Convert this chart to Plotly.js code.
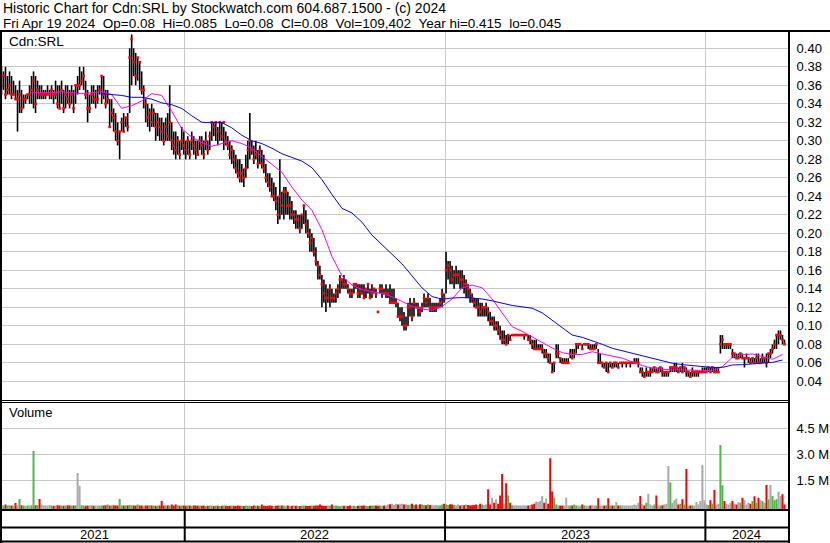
<!DOCTYPE html>
<html><head><meta charset="utf-8">
<script src="https://cdn.plot.ly/plotly-3.0.1.min.js"></script>
<style>html,body{margin:0;padding:0;background:#fff}#chart{width:830px;height:543px}</style>
</head><body><div id="chart"></div>
<script>
// ---- data (each bar = 2 trading days, oldest first, last bar = 2024-04-19) ----
const lastDate = '2024-04-19';
const stepDays = 2;
const low = [
.35,.355,.345,.35,.35,.345,.35,.345,.31,.33,.33,.335,.34,.345,.34,.34,.335,.33,.345,.345,
.345,.345,.345,.35,.345,.345,.34,.345,.335,.335,.34,.33,.335,.34,.335,.34,.33,.34,.35,.355,
.36,.355,.345,.32,.33,.34,.34,.335,.34,.35,.34,.345,.335,.34,.315,.32,.31,.30,.295,.28,
.31,.31,.315,.31,.33,.36,.37,.36,.365,.355,.35,.335,.32,.315,.31,.315,.315,.30,.305,.30,
.30,.295,.30,.30,.30,.29,.285,.28,.285,.28,.29,.285,.28,.285,.28,.29,.285,.28,.285,.29,
.285,.28,.29,.285,.29,.30,.305,.30,.295,.30,.30,.29,.295,.29,.28,.275,.27,.265,.26,.255,
.255,.25,.26,.27,.28,.285,.275,.28,.27,.275,.27,.265,.255,.25,.245,.24,.235,.225,.21,.215,
.22,.215,.22,.22,.215,.215,.21,.205,.205,.20,.205,.21,.20,.195,.18,.18,.175,.165,.15,.15,
.12,.125,.115,.125,.12,.125,.125,.125,.13,.135,.14,.14,.14,.135,.13,.13,.135,.14,.13,.13,
.135,.13,.13,.135,.13,.13,.135,.13,.115,.135,.13,.135,.13,.13,.125,.125,.125,.12,.11,.105,
.10,.095,.095,.10,.11,.105,.11,.12,.11,.11,.115,.12,.12,.12,.115,.115,.115,.115,.12,.12,
.12,.125,.135,.15,.145,.145,.14,.145,.145,.14,.14,.135,.13,.13,.125,.125,.12,.12,.11,.11,
.11,.11,.11,.105,.10,.10,.095,.095,.09,.085,.08,.08,.08,.08,.085,.09,.09,.09,.09,.09,
.09,.085,.09,.085,.08,.075,.075,.075,.075,.075,.07,.065,.065,.06,.06,.05,.05,.065,.065,.06,
.06,.06,.06,.06,.065,.065,.065,.07,.075,.08,.075,.08,.08,.075,.075,.075,.075,.075,.06,.06,
.055,.055,.05,.05,.055,.055,.055,.055,.055,.06,.055,.06,.055,.06,.055,.06,.06,.06,.055,.05,
.045,.045,.045,.045,.045,.05,.05,.05,.05,.05,.045,.045,.045,.045,.05,.05,.05,.05,.05,.05,
.05,.05,.045,.045,.045,.045,.045,.045,.045,.05,.05,.05,.05,.05,.05,.05,.05,.05,.05,.07,
.075,.075,.075,.075,.075,.065,.065,.065,.065,.065,.065,.055,.065,.06,.06,.06,.06,.06,.06,.06,
.06,.06,.055,.06,.065,.07,.075,.075,.08,.085,.08,.08];
const high = [
.38,.375,.38,.37,.375,.37,.365,.36,.355,.365,.355,.35,.35,.35,.36,.37,.375,.37,.365,.36,
.36,.355,.355,.36,.355,.36,.355,.365,.36,.36,.365,.355,.36,.36,.355,.36,.355,.36,.37,.38,
.375,.38,.365,.355,.35,.36,.36,.355,.36,.36,.37,.37,.355,.355,.345,.345,.335,.33,.32,.31,
.325,.33,.325,.33,.40,.415,.40,.395,.39,.385,.375,.36,.345,.34,.335,.34,.335,.33,.33,.325,
.325,.32,.325,.33,.36,.32,.31,.31,.305,.30,.315,.31,.30,.305,.30,.31,.305,.30,.30,.305,
.305,.30,.31,.30,.31,.32,.32,.32,.315,.32,.32,.315,.31,.305,.30,.295,.29,.285,.28,.28,
.275,.27,.285,.30,.33,.30,.295,.30,.29,.295,.29,.285,.275,.265,.265,.26,.255,.25,.24,.28,
.245,.25,.25,.245,.24,.235,.225,.225,.22,.22,.22,.23,.225,.215,.205,.20,.195,.185,.17,.165,
.155,.15,.145,.14,.145,.14,.135,.14,.145,.155,.15,.155,.15,.145,.14,.14,.145,.145,.145,.145,
.145,.145,.14,.145,.14,.145,.14,.14,.115,.145,.145,.14,.145,.14,.145,.14,.14,.13,.125,.12,
.12,.115,.11,.125,.13,.125,.13,.125,.125,.12,.125,.135,.13,.135,.13,.125,.125,.125,.125,.13,
.14,.135,.18,.17,.17,.165,.16,.165,.16,.16,.16,.155,.15,.145,.14,.135,.13,.13,.13,.125,
.125,.12,.125,.12,.115,.11,.11,.105,.105,.10,.095,.095,.09,.09,.09,.09,.09,.09,.09,.09,
.09,.09,.09,.09,.09,.085,.085,.085,.08,.08,.08,.075,.075,.07,.07,.06,.06,.08,.08,.065,
.065,.065,.065,.065,.075,.075,.075,.08,.08,.08,.08,.08,.08,.08,.08,.08,.08,.08,.075,.07,
.06,.06,.06,.06,.06,.06,.06,.06,.06,.06,.06,.06,.06,.06,.06,.06,.065,.065,.065,.055,
.055,.05,.055,.05,.055,.055,.055,.055,.055,.055,.055,.05,.05,.05,.055,.055,.06,.06,.055,.055,
.06,.055,.055,.05,.05,.055,.05,.05,.05,.05,.055,.055,.055,.055,.055,.055,.055,.055,.055,.09,
.09,.08,.08,.08,.08,.075,.07,.07,.07,.07,.07,.065,.07,.065,.065,.065,.065,.07,.07,.065,
.07,.065,.07,.07,.075,.08,.085,.09,.095,.095,.09,.085];
const close = [
.36,.37,.35,.355,.36,.35,.35,.345,.345,.35,.335,.345,.345,.35,.35,.355,.365,.34,.355,.35,
.35,.35,.35,.35,.35,.355,.35,.35,.34,.335,.355,.335,.35,.345,.34,.35,.335,.36,.36,.36,
.365,.37,.35,.335,.335,.35,.345,.345,.345,.355,.37,.35,.34,.345,.315,.33,.325,.31,.30,.31,
.32,.31,.325,.315,.39,.41,.385,.37,.39,.385,.355,.355,.34,.325,.33,.32,.33,.315,.32,.315,
.31,.30,.315,.305,.32,.30,.295,.29,.30,.285,.30,.295,.29,.30,.285,.30,.295,.29,.285,.30,
.295,.285,.30,.29,.305,.32,.315,.32,.31,.32,.305,.32,.30,.295,.285,.29,.28,.27,.265,.26,
.265,.26,.27,.29,.30,.29,.28,.285,.275,.29,.275,.27,.26,.255,.25,.24,.24,.235,.22,.24,
.23,.245,.245,.23,.23,.22,.22,.215,.215,.205,.22,.23,.21,.20,.19,.195,.18,.17,.165,.155,
.145,.135,.13,.13,.14,.13,.13,.135,.14,.15,.15,.145,.145,.14,.135,.135,.145,.145,.135,.14,
.135,.13,.14,.145,.13,.135,.14,.135,.115,.14,.14,.135,.135,.135,.125,.125,.125,.125,.11,.11,
.11,.10,.10,.12,.12,.11,.125,.12,.12,.115,.12,.13,.125,.13,.12,.12,.12,.12,.12,.125,
.135,.13,.16,.165,.16,.15,.155,.155,.155,.15,.15,.145,.145,.14,.135,.13,.125,.12,.12,.115,
.12,.12,.12,.115,.105,.105,.10,.10,.095,.09,.085,.085,.08,.09,.085,.09,.09,.09,.09,.09,
.09,.09,.09,.085,.085,.08,.075,.075,.075,.075,.075,.07,.07,.065,.06,.05,.06,.07,.07,.065,
.06,.06,.06,.06,.07,.065,.07,.08,.08,.08,.075,.08,.08,.08,.075,.075,.075,.08,.06,.06,
.06,.055,.06,.05,.06,.055,.06,.06,.055,.06,.06,.06,.06,.06,.06,.06,.06,.06,.06,.05,
.05,.045,.05,.05,.05,.05,.055,.05,.05,.055,.05,.05,.05,.05,.055,.055,.055,.055,.05,.055,
.05,.055,.05,.05,.045,.05,.05,.05,.05,.05,.05,.05,.05,.055,.05,.055,.05,.05,.05,.08,
.085,.08,.08,.08,.08,.07,.07,.065,.065,.07,.065,.065,.065,.065,.06,.065,.06,.065,.06,.06,
.065,.065,.06,.07,.07,.075,.08,.09,.09,.09,.085,.08];
// volume in millions of shares
const volM = [
.08,.05,.1,.04,.06,.05,.03,.19,.05,.42,.06,.04,.03,.05,.04,.06,3.19,.05,.08,.42,
.1,.06,.04,.05,.08,.04,.03,.05,.06,.04,.05,.03,.04,.06,.05,.04,.05,.06,1.92,1.19,
.06,.04,.03,.05,.04,.06,.03,.05,.04,.03,.05,.04,.06,.1,.05,.04,.06,.05,.04,.42,
.05,.04,.06,.05,.08,.06,.05,.04,.1,.05,.04,.03,.05,.04,.06,.05,.04,.03,.05,.04,
.3,.05,.04,.06,.04,.1,.05,.1,.06,.03,.05,.04,.03,.05,.04,.03,.04,.05,.03,.04,
.03,.04,.02,.03,.04,.03,.02,.04,.03,.02,.03,.04,.03,.02,.03,.04,.03,.02,.04,.03,
.03,.02,.04,.03,.03,.02,.04,.03,.03,.02,.1,.03,.02,.03,.04,.03,.02,.03,.04,.05,
.04,.03,.03,.04,.02,.03,.04,.03,.03,.02,.03,.04,.03,.02,.03,.04,.03,.05,.04,.1,
.04,.03,.03,.03,.05,.1,.03,.04,.03,.02,.04,.03,.03,.02,.04,.03,.03,.02,.03,.04,
.03,.04,.03,.02,.03,.04,.05,.04,.03,.04,.03,.05,.04,.1,.12,.15,.08,.15,.1,.12,
.15,.1,.12,.08,.1,.15,.08,.1,.06,.12,.1,.08,.06,.1,.08,.06,.05,.08,.06,.05,
.1,.15,.1,.08,.12,.1,.08,.06,.1,.05,.08,.06,.1,.08,.05,.06,.08,.1,.06,.15,
.1,.08,.12,.98,.1,.5,.2,.4,.15,.62,1.86,.15,1.33,.62,.2,.06,.05,.06,.04,.05,
.05,.06,.04,.05,.08,.1,.15,.27,.25,.3,.6,.2,.45,.15,2.77,.86,.5,.1,.05,.04,
.04,.05,.5,.05,.04,.05,.1,.04,.05,.03,.1,.04,.05,.03,.04,.06,.04,.05,.46,.05,
.04,.05,.06,.46,.05,.04,.05,.25,.04,.05,.06,.04,.05,.04,.05,.06,.1,.08,.2,.6,
.1,.05,.2,.73,.1,.05,.1,.63,.05,.04,.06,.1,.15,2.33,1.38,.2,.35,.45,.1,.15,
.4,.1,2.15,.05,.04,.06,.05,.25,.1,.3,2.38,.35,.1,.08,.35,.15,.94,.1,.15,3.54,
1.22,.3,.15,.1,.2,.3,.15,.1,.25,.2,.5,.35,.1,.2,.15,.3,.58,.2,.5,.35,
.3,.2,1.23,.4,1.23,.6,.35,.4,.86,.6,.7,.109];
// moving averages, one value every maStep bars
const maStep = 5;
const maShort = [null,null,null,.352,.352,.352,.353,.352,.351,.352,
.353,.350,.335,.338,.343,.351,.349,.332,.313,.304,
.298,.294,.297,.300,.297,.292,.283,.275,.266,.250,
.236,.225,.204,.175,.154,.144,.139,.137,.135,.1315,
.126,.121,.118,.117,.121,.129,.141,.144,.141,.129,
.114,.099,.094,.088,.082,.076,.071,.069,.069,.072,
.0695,.0675,.065,.061,.057,.054,.053,.0523,.0523,.052,
.0515,.0515,.056,.066,.069,.0695,.0667,.0638,.069];
const maLong = [null,null,null,null,null,null,null,null,null,null,
.351,.350,.349,.347,.347,.345,.341,.339,.335,.327,
.320,.3196,.3196,.314,.306,.300,.297,.292,.286,.282,
.278,.271,.258,.242,.227,.222,.212,.198,.188,.178,
.167,.154,.141,.1316,.1288,.130,.1305,.130,.129,.127,
.1244,.122,.1205,.119,.114,.106,.097,.090,.0875,.084,
.080,.0757,.073,.0703,.0676,.0649,.062,.0595,.058,.057,
.056,.055,.055,.0577,.058,.0588,.059,.0605,.063];
const priceTicks = [0.04,0.06,0.08,0.10,0.12,0.14,0.16,0.18,0.20,0.22,0.24,0.26,0.28,0.30,0.32,0.34,0.36,0.38,0.40];
const volTicks = [1.5,3.0,4.5];
const volTickText = ['1.5 M','3.0 M','4.5 M'];
const yearStarts = ['2022-01-03','2023-01-02','2024-01-01'];
const yearLabels = ['2021','2022','2023','2024'];
const xRange = ['2021-04-21 12:00','2024-04-24 12:00'];
const header1 = 'Historic Chart for Cdn:SRL by Stockwatch.com 604.687.1500 - (c) 2024';
const header2 = ['Fri Apr 19 2024','Op=0.08','Hi=0.085','Lo=0.08','Cl=0.08','Vol=109,402','Year hi=0.415','lo=0.045'];

// ---- build trading dates (weekdays), backwards from last date ----
function prevWeekday(d){ const n=new Date(d.getTime()); do{ n.setUTCDate(n.getUTCDate()-1);}while(n.getUTCDay()===0||n.getUTCDay()===6); return n; }
const dates=[]; let cur=new Date(lastDate+'T00:00:00Z');
for(let i=0;i<close.length;i++){ dates.unshift(cur.toISOString().slice(0,10)); for(let k=0;k<stepDays;k++) cur=prevWeekday(cur); }

// ---- traces ----
const hlX=[], hlY=[];
dates.forEach((d,i)=>{ hlX.push(d,d,null); hlY.push(low[i],high[i],null); });
const volBase = -0.185;
const vUp={x:[],y:[]}, vDn={x:[],y:[]}, vFl={x:[],y:[]};
dates.forEach((d,i)=>{
  const t = i===0 ? vFl : (close[i]>close[i-1] ? vUp : (close[i]<close[i-1] ? vDn : vFl));
  t.x.push(d,d,null); t.y.push(volBase,volM[i],null);
});
const maDates = maShort.map((v,k)=>dates[k*maStep]);
const traces = [
  {type:'scatter',mode:'lines',x:hlX,y:hlY,line:{color:'#000',width:1.6},hoverinfo:'skip',xaxis:'x',yaxis:'y'},
  {type:'scatter',mode:'markers',x:dates,y:close,marker:{color:'#ff0000',size:2.6,symbol:'square',line:{width:0}},xaxis:'x',yaxis:'y'},
  {type:'scatter',mode:'lines',x:maDates,y:maShort,line:{color:'#ff00ff',width:1},connectgaps:false,xaxis:'x',yaxis:'y'},
  {type:'scatter',mode:'lines',x:maDates,y:maLong,line:{color:'#0000ff',width:1},connectgaps:false,xaxis:'x',yaxis:'y'},
  {type:'scatter',mode:'lines',x:vFl.x,y:vFl.y,line:{color:'#a8a8a8',width:2},xaxis:'x',yaxis:'y2'},
  {type:'scatter',mode:'lines',x:vDn.x,y:vDn.y,line:{color:'#ff0000',width:2},xaxis:'x',yaxis:'y2'},
  {type:'scatter',mode:'lines',x:vUp.x,y:vUp.y,line:{color:'#4db848',width:2},xaxis:'x',yaxis:'y2'}
];

// ---- layout ----
const W=830,H=543;
const px=v=>v/W, py=v=>1-v/H;
const FONT='Liberation Sans, Arial, Helvetica, sans-serif';
function hline(y,x0,x1,w){return {type:'line',xref:'paper',yref:'paper',x0:px(x0),x1:px(x1),y0:py(y),y1:py(y),line:{color:'#000',width:w}};}
function vline(x,y0,y1,w){return {type:'line',xref:'paper',yref:'paper',x0:px(x),x1:px(x),y0:py(y0),y1:py(y1),line:{color:'#000',width:w}};}
const shapes=[
  hline(31,0,830,2), vline(1,30,543,2), vline(789,30,543,2),
  hline(400.5,0,789,1), hline(402.5,0,789,1),
  hline(510,0,789,2), hline(527.5,0,789,2), hline(541.5,0,789,2)
];
yearStarts.forEach(ys=>shapes.push({type:'line',xref:'x',yref:'paper',x0:ys,x1:ys,y0:py(510),y1:py(542),line:{color:'#000',width:2}}));

const bounds=[xRange[0].replace(' ','T')+'Z'].concat(yearStarts.map(s=>s+'T00:00:00Z')).concat([xRange[1].replace(' ','T')+'Z']);
const annotations=[
  {xref:'paper',yref:'paper',x:px(1),y:py(8),xanchor:'left',yanchor:'middle',text:header1,showarrow:false,font:{size:14,family:FONT,color:'#000'}},
  {xref:'paper',yref:'paper',x:px(1),y:py(23.5),xanchor:'left',yanchor:'middle',text:header2.join('\u00a0\u00a0'),showarrow:false,font:{size:13.5,family:FONT,color:'#000'}},
  {xref:'paper',yref:'paper',x:px(7),y:py(41.5),xanchor:'left',yanchor:'middle',text:'Cdn:SRL',showarrow:false,font:{size:13.5,family:FONT,color:'#000'}},
  {xref:'paper',yref:'paper',x:px(7),y:py(412),xanchor:'left',yanchor:'middle',text:'Volume',showarrow:false,font:{size:13,family:FONT,color:'#000'}}
];
yearLabels.forEach((lab,k)=>{
  const a=Date.parse(bounds[k]), b=Date.parse(bounds[k+1]);
  annotations.push({xref:'x',yref:'paper',x:new Date((a+b)/2).toISOString().slice(0,19).replace('T',' '),y:py(534.5),xanchor:'center',yanchor:'middle',text:lab,showarrow:false,font:{size:13,family:FONT,color:'#000'}});
});

const layout={
  width:W,height:H,margin:{l:0,r:0,t:0,b:0},paper_bgcolor:'#fff',plot_bgcolor:'#fff',showlegend:false,
  font:{family:FONT,size:13,color:'#000'},hovermode:false,
  xaxis:{type:'date',domain:[px(2),px(788)],range:xRange,rangebreaks:[{bounds:['sat','mon']}],tickvals:yearStarts,
    showticklabels:false,ticks:'',showgrid:true,gridcolor:'#c8c8c8',gridwidth:1,zeroline:false,showline:false,anchor:'y'},
  yaxis:{domain:[py(400),py(32)],range:[0.0198,0.4176],side:'right',tickvals:priceTicks,tickformat:'.2f',
    showgrid:true,gridcolor:'#c8c8c8',gridwidth:1,zeroline:false,showline:false,ticks:'outside',ticklen:5,tickcolor:'rgba(0,0,0,0)',
    tickfont:{size:13,family:FONT,color:'#000'},anchor:'x'},
  yaxis2:{domain:[py(509.5),py(403)],range:[volBase,5.96],side:'right',tickmode:'array',tickvals:volTicks,ticktext:volTickText,
    ticklabeloverflow:'allow',
    showgrid:true,gridcolor:'#c8c8c8',gridwidth:1,zeroline:false,showline:false,ticks:'outside',ticklen:5,tickcolor:'rgba(0,0,0,0)',
    tickfont:{size:13,family:FONT,color:'#000'},anchor:'x'},
  shapes:shapes,annotations:annotations
};
Plotly.newPlot('chart',traces,layout,{staticPlot:true,displayModeBar:false});
</script></body></html>
